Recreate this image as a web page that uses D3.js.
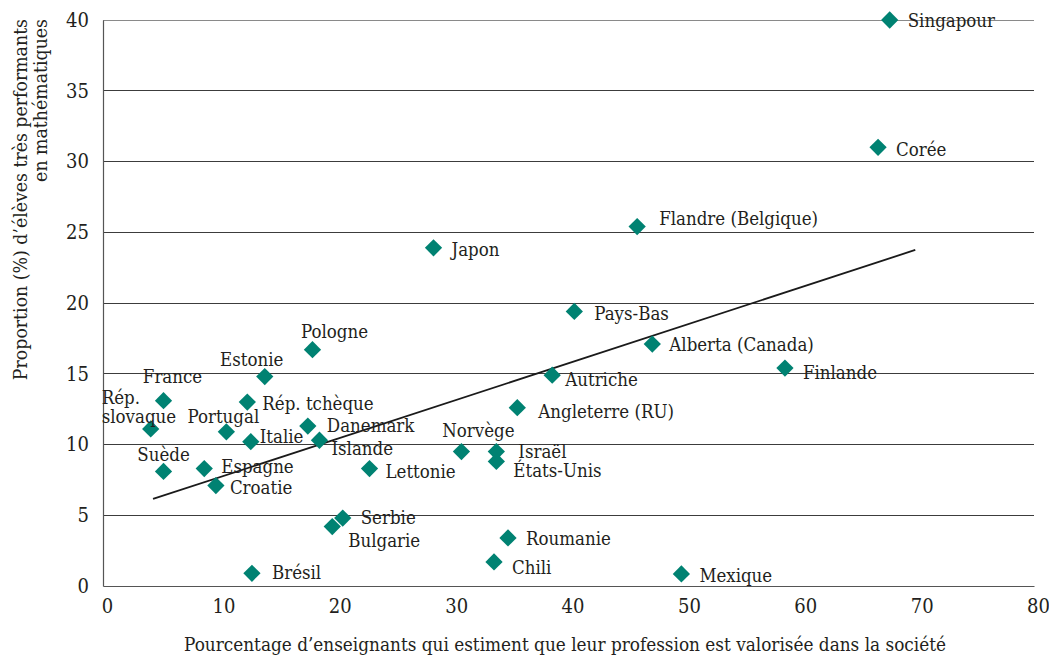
<!DOCTYPE html>
<html><head><meta charset="utf-8">
<script src="https://cdn.jsdelivr.net/npm/d3@7"></script>
<style>body{margin:0;background:#fff}</style>
</head><body>
<svg id="c" width="1049" height="658"></svg>
<script>
const countries = ["Singapour","Corée","Flandre (Belgique)","Japon","Pays-Bas","Alberta (Canada)","Finlande","Autriche","Angleterre (RU)","Pologne","Estonie","France","Rép. slovaque","Rép. tchèque","Portugal","Italie","Danemark","Islande","Suède","Espagne","Croatie","Lettonie","Norvège","Israël","États-Unis","Serbie","Bulgarie","Roumanie","Chili","Brésil","Mexique"];
const valorisee = [67.6,66.6,45.9,28.4,40.5,47.2,58.6,38.6,35.6,18.0,13.9,5.2,4.1,12.4,10.6,12.7,17.6,18.6,5.2,8.7,9.7,22.9,30.8,33.8,33.8,20.6,19.7,34.8,33.6,12.8,49.7];
const performants = [40.0,31.0,25.4,23.9,19.4,17.1,15.4,14.9,12.6,16.7,14.8,13.1,11.1,13.0,10.9,10.2,11.3,10.3,8.1,8.3,7.1,8.3,9.5,9.5,8.8,4.8,4.2,3.4,1.7,0.9,0.85];
const trendX = [4.3, 69.8];
const trendY = [6.15, 23.75];
const xTicks = [0,10,20,30,40,50,60,70,80];
const yTicks = [0,5,10,15,20,25,30,35,40];

// label placement (layout only): [dx, dy baseline, anchor]
const labelPos = {
 "Singapour":[18,7,"start"],"Corée":[18,9,"start"],"Flandre (Belgique)":[22,-2,"start"],"Japon":[18,8,"start"],
 "Pays-Bas":[20,9,"start"],"Alberta (Canada)":[17,7,"start"],"Finlande":[18,11,"start"],"Autriche":[13,11,"start"],
 "Angleterre (RU)":[21,10,"start"],"Pologne":[22,-12,"middle"],"Estonie":[-13,-11,"middle"],"France":[9,-18,"middle"],
 "Rép. slovaque":[-49,-25,"start"],"Rép. tchèque":[15,8,"start"],"Portugal":[-3,-9,"middle"],"Italie":[9,1,"start"],
 "Danemark":[19,6,"start"],"Islande":[12,15,"start"],"Suède":[0,-10,"middle"],"Espagne":[17,4,"start"],
 "Croatie":[14,8,"start"],"Lettonie":[16,9,"start"],"Norvège":[17,-15,"middle"],"Israël":[22,6,"start"],
 "États-Unis":[17,16,"start"],"Serbie":[18,6,"start"],"Bulgarie":[16,20,"start"],"Roumanie":[18,7,"start"],
 "Chili":[18,12,"start"],"Brésil":[20,6,"start"],"Mexique":[18,8,"start"]
};

const svg = d3.select("#c");
const font = "'DejaVu Serif Condensed', 'DejaVu Serif', serif";
const txt = "#231f20";
const x = d3.scaleLinear().domain([0,80]).range([103,1034]);
const y = d3.scaleLinear().domain([0,40]).range([586,20]);

// gridlines
svg.append("g").selectAll("line").data(yTicks.filter(d=>d>0)).join("line")
  .attr("x1",x(0)).attr("x2",x(80)).attr("y1",d=>y(d)).attr("y2",d=>y(d))
  .attr("stroke",d=>d===40?"#8a8a8a":"#3c3c3c").attr("stroke-width",1).attr("shape-rendering","crispEdges");

// axes
const xa = svg.append("g").attr("transform",`translate(0,${y(0)})`)
  .call(d3.axisBottom(x).tickValues(xTicks).tickSize(0).tickPadding(13));
const ya = svg.append("g").attr("transform",`translate(${x(0)},0)`)
  .call(d3.axisLeft(y).tickValues(yTicks).tickSize(0).tickPadding(14));
[xa,ya].forEach(a=>{
  a.select(".domain").attr("stroke","#555").attr("stroke-width",1.2);
  a.selectAll("text").attr("font-family",font).attr("font-size",20).attr("fill",txt);
});
xa.selectAll("text").attr("dx",4);

// trend line
svg.append("line").attr("x1",x(trendX[0])).attr("y1",y(trendY[0])).attr("x2",x(trendX[1])).attr("y2",y(trendY[1]))
  .attr("stroke","#1a1a1a").attr("stroke-width",1.8);

// points
const data = countries.map((c,i)=>({c, vx:valorisee[i], vy:performants[i]}));
const diamond = d3.symbol().type(d3.symbolDiamond2).size(190);
svg.append("g").selectAll("path").data(data).join("path")
  .attr("d",diamond).attr("transform",d=>`translate(${x(d.vx)},${y(d.vy)})`)
  .attr("fill","#008272");

// labels
const lg = svg.append("g").attr("font-family",font).attr("font-size",18.5).attr("fill",txt);
data.forEach(d=>{
  const p = labelPos[d.c];
  if(d.c==="Rép. slovaque"){
    lg.append("text").attr("x",x(d.vx)+p[0]).attr("y",y(d.vy)+p[1]).text("Rép.");
    lg.append("text").attr("x",x(d.vx)+p[0]).attr("y",y(d.vy)+p[1]+19).text("slovaque");
  } else {
    lg.append("text").attr("text-anchor",p[2])
      .attr("x",x(d.vx)+p[0]).attr("y",y(d.vy)+p[1]).text(d.c);
  }
});

// axis titles
svg.append("text").attr("x",565).attr("y",651).attr("text-anchor","middle")
  .attr("font-family",font).attr("font-size",18.8).attr("fill",txt)
  .text("Pourcentage d’enseignants qui estiment que leur profession est valorisée dans la société");
const yt = svg.append("text").attr("transform","translate(27,19) rotate(-90)").attr("text-anchor","end")
  .attr("font-family",font).attr("font-size",19.3).attr("fill",txt);
yt.append("tspan").attr("x",0).attr("y",0).text("Proportion (%) d’élèves très performants");
yt.append("tspan").attr("x",0).attr("y",20).text("en mathématiques");
</script>
</body></html>
